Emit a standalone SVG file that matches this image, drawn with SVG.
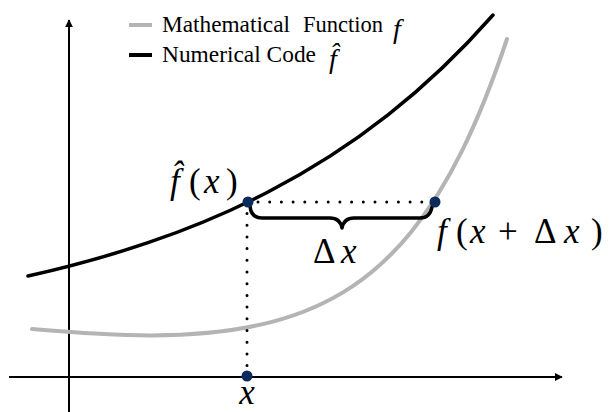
<svg xmlns="http://www.w3.org/2000/svg" width="609" height="412" viewBox="0 0 609 412">
<defs>
<style>
.axis{stroke:#000;stroke-width:2;fill:none}
.fn{stroke:#b4b4b4;stroke-width:4;fill:none;stroke-linecap:round}
.code{stroke:#000;stroke-width:3.5;fill:none;stroke-linecap:round}
.dots{stroke:#000;stroke-width:3;fill:none;stroke-linecap:round;stroke-dasharray:0 11.7}
.pt{fill:#0c2b5c}
text{font-family:"Times New Roman",Times,"Liberation Serif",Tinos,"Noto Serif","DejaVu Serif",FreeSerif,serif;fill:#000}
.leg{font-size:23px}
.math{font-size:35px}
.it{font-style:italic}
</style>
<marker id="arr" viewBox="0 0 10 10" refX="9" refY="5" markerWidth="8" markerHeight="8" markerUnits="userSpaceOnUse" orient="auto">
<path d="M0,0 L10,5 L0,10 z" fill="#000"/>
</marker>
</defs>
<rect width="609" height="412" fill="#fff"/>
<g id="axes">
<line class="axis" x1="69" y1="412" x2="69" y2="20" marker-end="url(#arr)"/>
<line class="axis" x1="9" y1="377" x2="562" y2="377" marker-end="url(#arr)"/>
</g>
<g id="legend">
<line x1="129" y1="25" x2="152" y2="25" stroke="#b4b4b4" stroke-width="4"/>
<text class="leg" x="162" y="32" textLength="128" lengthAdjust="spacingAndGlyphs">Mathematical</text>
<text class="leg" x="303" y="32" textLength="80" lengthAdjust="spacingAndGlyphs">Function</text>
<text class="leg it" x="393" y="38" style="font-size:28px">f</text>
<line x1="129" y1="55" x2="152" y2="55" stroke="#000" stroke-width="4"/>
<text class="leg" x="162" y="62" textLength="154" lengthAdjust="spacingAndGlyphs">Numerical Code</text>
<text class="leg it" x="329" y="68" style="font-size:28px">f̂</text>
</g>
<g id="connectors">
<path id="f-curve" class="fn" d="M32,329 C72,332.4 112,335.5 152,335.4 C192,335.3 232,332.3 272,321.9 C298.7,315 325.3,304.5 352,286.7 C372,273.3 392,255.7 412,230.9 C428.7,210.2 445.3,184.6 462,150.9 C477,120.6 492,83.8 507,39"/>
<path id="fhat-curve" class="code" d="M28,276 C68,267.1 108,256.3 148,242.7 C188,229.1 228,212.7 268,192 C308,171.3 348,146.4 388,114.9 C423,87.4 458,54.8 493,15"/>
<path class="dots" d="M258,202 H430"/>
<path class="dots" d="M247,213.5 V372"/>
<path id="brace" d="M250,206 Q251,218 262,218 L330,218 Q340,218 342,228 Q344,218 354,218 L420,218 Q430,218 432,207" fill="none" stroke="#000" stroke-width="3.5" stroke-linecap="round" stroke-linejoin="round"/>
</g>
<g id="point-fhat">
<circle class="pt" cx="248" cy="202" r="5.5"/>
<text class="math it" y="193"><tspan x="170">f̂</tspan><tspan x="189" style="font-style:normal">(</tspan><tspan x="204">x</tspan><tspan x="226" style="font-style:normal">)</tspan></text>
</g>
<g id="point-f">
<circle class="pt" cx="435" cy="202" r="5.5"/>
<text class="math" y="243"><tspan x="437" class="it">f</tspan><tspan x="456">(</tspan><tspan x="470" class="it">x</tspan><tspan x="498">+</tspan><tspan x="534">Δ</tspan><tspan x="564" class="it">x</tspan><tspan x="591">)</tspan></text>
</g>
<g id="delta-label">
<text class="math" y="263"><tspan x="313">Δ</tspan><tspan x="341" class="it">x</tspan></text>
</g>
<g id="point-x">
<circle class="pt" cx="247" cy="376" r="5.5"/>
<text class="math it" x="247" y="404" text-anchor="middle">x</text>
</g>
</svg>
